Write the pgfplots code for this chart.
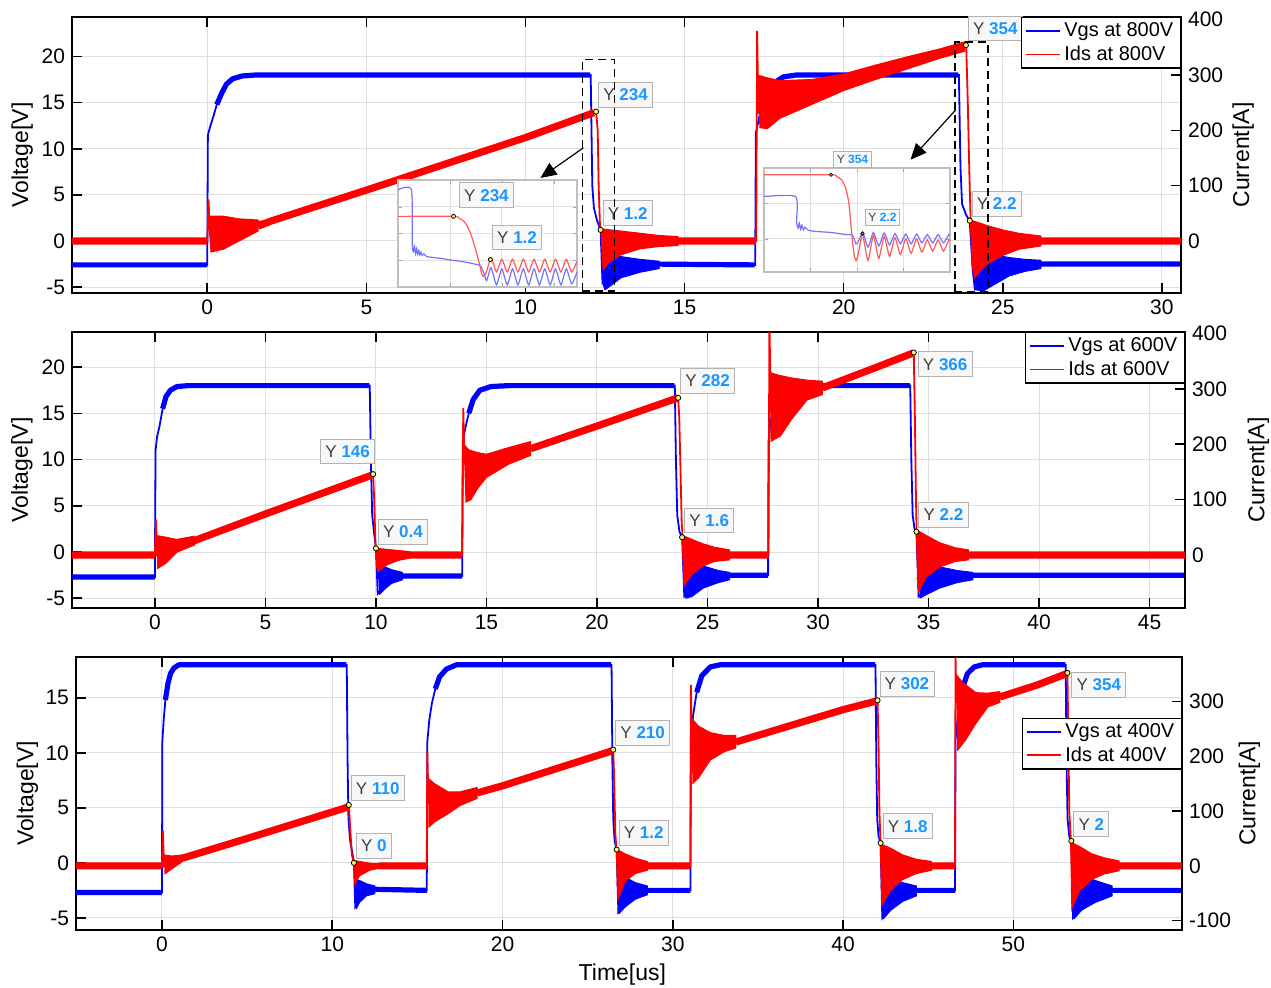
\documentclass[border=0pt]{standalone}
\usepackage{fontspec}
\setmainfont{Liberation Sans}
\usepackage{pgfplots}
\pgfplotsset{compat=1.18}
\usetikzlibrary{arrows.meta}
\definecolor{tipblue}{RGB}{25,150,255}
\newcommand{\tv}[1]{Y \textcolor{tipblue}{\bfseries #1}}
\pgfplotsset{
  base/.style={scale only axis, anchor=south west, clip mode=individual,
    axis line style={line width=0.8pt}, tick style={line width=0.8pt, black}, major tick length=5pt, tick align=inside,
    tick label style={font=\fontsize{10.5}{12}\selectfont},
    /pgf/number format/assume math mode=true,
    label style={font=\fontsize{11.5}{13}\selectfont}},
  leftax/.style={base, ytick pos=left, grid=major, major grid style={black!13, line width=0.5pt}},
  rightax/.style={base, axis x line=none, axis y line*=right, ytick pos=right,
    legend image code/.code={\draw[##1, line width=0.8pt] (0pt,0pt) -- (17pt,0pt);},
    legend style={draw=black, line width=0.7pt, fill=white, font=\fontsize{10}{11}\selectfont,
      inner xsep=1.5pt, inner ysep=0.5pt, row sep=-1pt, cells={anchor=west}}},
  vthin/.style={blue, line width=0.9pt, forget plot},
  vband/.style={blue, line width=2.6pt, line join=round, unbounded coords=jump, forget plot},
  venv/.style={draw=blue, fill=blue, line width=0.5pt, forget plot},
  ithin/.style={red, line width=0.9pt, forget plot},
  iband/.style={red, line width=3.6pt, line join=round, unbounded coords=jump, forget plot},
  ienv/.style={draw=red, fill=red, line width=0.5pt, forget plot},
  dots/.style={only marks, mark=*, mark size=1.3pt, mark options={draw=black, fill=yellow!60!white, line width=0.4pt}, forget plot},
  inset/.style={scale only axis, anchor=south west, clip mode=individual, xmin=0, xmax=100, ymin=0, ymax=100,
    axis background/.style={fill=white}, axis line style={black!25, line width=0.6pt},
    grid=major, major grid style={black!12, line width=0.4pt}, xticklabels={}, yticklabels={},
    tick style={black!35}, major tick length=2pt},
}
\tikzset{
  tip/.style={draw=black!30, fill=black!3, inner xsep=2.4pt, inner ysep=3.2pt,
    font=\fontsize{8.5}{9}\selectfont, text=black!75, anchor=south west, xshift=1pt, yshift=2pt},
  tipse/.style={tip, anchor=south east, xshift=0pt, yshift=3pt},
  tipnw/.style={tip, anchor=north west, xshift=1pt, yshift=-1.5pt},
  boxd/.style={black, line width=0.9pt, dash pattern=on 4pt off 2.5pt},
}
\begin{document}
\begin{tikzpicture}
\useasboundingbox (0,0) rectangle (635.5pt,493.5pt);
% ================= PANEL 1 (800V) =================
\begin{axis}[leftax, at={(36pt,347pt)}, width=554.5pt, height=138pt,
  xmin=-4.25, xmax=30.6, ymin=-5.65, ymax=24.3, xtick={0,5,...,30}, ytick={-5,0,...,20},
  ylabel={Voltage[V]}, ylabel style={at={(axis description cs:-0.045,0.5)}, anchor=center}]
\addplot[vthin] coordinates {(-4.25,-2.6) (0,-2.6) (0.02,11.5) (0.1,12.5) (0.2,13.6) (0.3,14.8) (0.45,16) (0.6,17) (0.8,17.6) (1.1,17.9) (1.5,18) (12.05,18) (12.1,6) (12.15,3.6) (12.25,2.2) (12.36,1.2) (12.42,-4.5) (12.6,-3.5) (13,-3) (14,-2.6) (17.22,-2.6) (17.24,11.7) (17.35,13.5) (17.5,15.5) (17.65,16.5) (17.8,17.1) (18.1,17.8) (18.5,18) (23.62,18) (23.67,8) (23.72,4) (23.85,2.8) (23.96,2.2) (24.05,-3) (24.12,-5.2) (24.5,-4) (25,-3.2) (26,-2.6) (30.6,-2.5)};
\addplot[vband] coordinates {(-4.25,-2.6) (0,-2.6) (0,nan) (0.3,14.8) (0.45,16) (0.6,17) (0.8,17.6) (1.1,17.9) (1.5,18) (12.03,18) (0,nan) (13.6,-2.5) (17.2,-2.6) (0,nan) (17.5,15.5) (17.65,16.5) (17.8,17.1) (18.1,17.8) (18.5,18) (23.6,18) (0,nan) (25.8,-2.5) (30.6,-2.5)};
\addplot[venv] coordinates {(12.42,-1.8) (12.6,-1.4) (13,-1.7) (13.6,-2.0) (14.2,-2.2) (14.2,-3.0) (13.6,-3.4) (13,-4.0) (12.7,-4.8) (12.5,-5.3) (12.42,-4.5)};
\addplot[venv] coordinates {(24.08,-2) (24.3,-1.5) (24.7,-1.5) (25.2,-1.8) (25.7,-2.0) (26.2,-2.1) (26.2,-3.0) (25.7,-3.3) (25.2,-3.8) (24.7,-4.8) (24.4,-5.4) (24.12,-5.3)};
\end{axis}
\begin{axis}[rightax, at={(36pt,347pt)}, width=554.5pt, height=138pt,
  xmin=-4.25, xmax=30.6, ymin=-94, ymax=405, ytick={0,100,...,400},
  ylabel={Current[A]}, ylabel style={at={(axis description cs:1.056,0.5)}, anchor=center},
  legend style={at={(1,1)}, anchor=north east}]
\addlegendimage{blue}\addlegendentry{Vgs at 800V}
\addlegendimage{red}\addlegendentry{Ids at 800V}
\addplot[ithin] coordinates {(-4.25,0) (0,0) (0.04,75) (0.08,20) (0.12,-15) (0.2,30) (0.3,-10) (0.4,35) (0.55,-5) (0.7,35) (0.9,5) (1.1,35) (1.3,15) (1.5,35) (2,36) (5,92) (10,187) (12.15,232) (12.22,234) (12.27,200) (12.3,100) (12.34,30) (12.38,20) (12.45,-50) (12.6,10) (13,-5) (14,0) (17.25,0) (17.28,380) (17.32,230) (17.36,290) (17.42,210) (17.5,280) (17.6,215) (17.7,270) (17.85,230) (18,255) (20,287) (22,322) (23.8,352) (23.85,354) (23.9,250) (23.95,120) (23.99,36) (24.05,-40) (24.2,20) (24.5,-10) (25,0) (26,0) (30.6,0)};
\addplot[iband] coordinates {(-4.25,0) (0,0) (0,nan) (1.6,27) (2,36) (5,92) (10,187) (12.15,232) (0,nan) (14.6,0) (17.25,0) (0,nan) (26,0) (30.6,0)};
\addplot[ienv] coordinates {(0.08,45) (0.5,45) (1,40) (1.6,38) (1.6,18) (1,0) (0.5,-15) (0.1,-20)};
\addplot[ienv] coordinates {(12.38,22) (13,18) (13.6,14) (14.2,10) (14.8,8) (14.8,-8) (14.2,-10) (13.6,-14) (13,-25) (12.6,-40) (12.45,-52) (12.4,-20)};
\addplot[ienv] coordinates {(17.3,300) (17.6,295) (18,290) (19,292) (20,302) (21,318) (22,333) (23,347) (23.8,360) (23.8,343) (23,330) (22,311) (21,292) (20,272) (19,247) (18,222) (17.6,203) (17.35,205)};
\addplot[ienv] coordinates {(23.99,38) (24.5,28) (25,20) (25.5,14) (26.2,9) (26.2,-9) (25.5,-15) (25,-26) (24.5,-42) (24.12,-66) (24.02,-40)};
\addplot[dots] coordinates {(12.22,234) (12.36,20.1) (23.84,354) (23.96,36.8)};
\node[tip] at (axis cs:12.22,234) {\tv{234}};
\node[tip] at (axis cs:12.36,20.1) {\tv{1.2}};
\node[tip] at (axis cs:23.84,354) {\tv{354}};
\node[tip] at (axis cs:23.96,36.8) {\tv{2.2}};
\draw[boxd] (axis cs:11.79,-90.6) rectangle (axis cs:12.8,328);
\draw[boxd] (axis cs:23.49,-92) rectangle (axis cs:24.53,360);
\draw[-{Triangle[length=8pt,width=7pt]}, line width=0.6pt] (axis cs:11.82,168.5) -- (axis cs:10.47,114);
\draw[-{Triangle[length=8pt,width=7pt]}, line width=0.6pt] (axis cs:23.52,237) -- (axis cs:22.1,147);
\end{axis}
% inset 1
\begin{axis}[inset, at={(199pt,350pt)}, width=89.5pt, height=53.5pt, xtick={0,29,58,87}, ytick={0,25,50,75}]
\addplot[blue!55, line width=0.6pt, smooth, tension=0.35] coordinates {(0,91) (7.5,91) (8,39) (8.6,33) (9.2,38) (9.8,31) (10.4,36) (11,30.5) (11.6,34) (12.2,30) (12.8,32.5) (13.5,29.5) (14.5,31) (16,28.5) (20,27.5) (25,26.5) (30,25) (35,24) (40,22.5) (44,21) (46,20) (48,13) (49.5,6) (52,18) (55,2) (58,17) (61,2) (64,17) (67,2) (70,17) (73,2) (76,17) (79,2) (82,17) (85,2) (88,17) (91,2) (94,17) (97,3) (100,14)};
\addplot[red!65, line width=0.6pt, smooth, tension=0.35] coordinates {(0,66) (31,66) (34,64.5) (37,61) (39,56) (41,48) (43,37) (45,25) (46.5,14) (47.5,10) (49,12) (52,27) (55,14) (58,26) (61,14) (64,26) (67,14) (70,26) (73,14) (76,26) (79,14) (82,26) (85,14) (88,26) (91,14) (94,26) (97,14) (100,24)};
\addplot[dots, mark size=1pt] coordinates {(31,66) (51.6,25.6)};
\node[tip, anchor=center, xshift=0pt, yshift=0pt] at (axis cs:48.3,82) {\tv{234}};
\node[tip, anchor=center, xshift=0pt, yshift=0pt] at (axis cs:65.4,42.5) {\tv{1.2}};
\end{axis}
% inset 2
\begin{axis}[inset, at={(382pt,357.5pt)}, width=93pt, height=52pt, xtick={0,25,50,75}, ytick={0,32,66}]
\addplot[blue!55, line width=0.6pt, smooth, tension=0.35] coordinates {(0,72.6) (17,72.6) (17.5,48) (18.3,42) (19,47) (19.7,41) (20.4,45) (21.2,40.5) (22,43) (24,40) (28,39) (32,38.5) (36,38) (40,37) (44,36) (47.5,35.5) (49.5,27) (51,30) (53,38.7) (55.9,24) (58.8,38) (61.7,25) (64.6,37.5) (67.5,26) (70.4,37) (73.3,27) (76.2,36.5) (79.1,27) (82,36.5) (84.9,28) (87.8,36) (90.7,28) (93.6,36) (96.5,28) (99.4,36) (100,35)};
\addplot[red!65, line width=0.6pt, smooth, tension=0.35] coordinates {(0,93.5) (36,93.5) (39,92) (42,88) (44,80) (45.5,68) (46.5,50) (47.5,30) (48.5,16) (49.5,11) (50.5,16) (52,30) (53,37) (55.9,11) (58.8,35) (61.7,13) (64.6,34) (67.5,15) (70.4,33) (73.3,17) (76.2,32) (79.1,18) (82,32) (84.9,19) (87.8,31) (90.7,20) (93.6,31) (96.5,20) (99.4,31) (100,30)};
\addplot[dots, mark size=0.8pt] coordinates {(36,93.5) (53,37)};
\node[tip, anchor=center, xshift=0pt, yshift=0pt, font=\fontsize{6}{7}\selectfont, inner ysep=2pt, inner xsep=1.5pt] at (axis cs:46.5,104.5) {\tv{354}};
\node[tip, anchor=center, xshift=0pt, yshift=0pt, font=\fontsize{6}{7}\selectfont, inner ysep=2pt, inner xsep=1.5pt] at (axis cs:62.6,48.5) {\tv{2.2}};
\end{axis}
% ================= PANEL 2 (600V) =================
\begin{axis}[leftax, at={(36pt,189.5pt)}, width=556.5pt, height=138pt,
  xmin=-3.75, xmax=46.6, ymin=-6.05, ymax=23.8, xtick={0,5,...,45}, ytick={-5,0,...,20},
  ylabel={Voltage[V]}, ylabel style={at={(axis description cs:-0.045,0.5)}, anchor=center}]
\addplot[vthin] coordinates {(-3.75,-2.7) (0,-2.7) (0.03,11) (0.1,12.5) (0.2,13.5) (0.35,15.5) (0.5,16.8) (0.7,17.5) (1.0,17.9) (1.5,18) (9.72,18) (9.77,10) (9.83,4) (9.92,2) (10.0,0.4) (10.08,-4.5) (10.5,-3.2) (11.2,-2.6) (13.9,-2.6) (13.93,12) (14.05,13.5) (14.2,15) (14.4,16.5) (14.7,17.5) (15.2,17.9) (16,18) (23.52,18) (23.57,10) (23.63,4) (23.73,2.2) (23.85,1.6) (23.95,-4.8) (24.5,-3.8) (25.5,-2.8) (26,-2.5) (27.74,-2.5) (27.76,12) (27.85,14) (28,16) (28.2,17.3) (28.5,17.8) (29,18) (34.17,18) (34.22,10) (34.28,4) (34.36,2.6) (34.45,2.2) (34.55,-4.8) (35,-4) (36,-2.8) (37,-2.5) (46.6,-2.5)};
\addplot[vband] coordinates {(-3.75,-2.7) (0,-2.7) (0,nan) (0.35,15.5) (0.5,16.8) (0.7,17.5) (1.0,17.9) (1.5,18) (9.7,18) (0,nan) (11.1,-2.6) (13.9,-2.6) (0,nan) (14.2,15) (14.4,16.5) (14.7,17.5) (15.2,17.9) (16,18) (23.5,18) (0,nan) (25.9,-2.5) (27.74,-2.5) (0,nan) (28,16) (28.2,17.3) (28.5,17.8) (29,18) (34.15,18) (0,nan) (36.9,-2.5) (46.6,-2.5)};
\addplot[venv] coordinates {(10.08,-2) (10.3,-1.5) (10.7,-1.9) (11.2,-2.2) (11.2,-3.0) (10.7,-3.4) (10.4,-4) (10.15,-4.6)};
\addplot[venv] coordinates {(23.95,-2) (24.2,-1.3) (24.8,-1.5) (25.5,-2.0) (26,-2.2) (26,-3.0) (25.5,-3.3) (24.8,-3.9) (24.3,-4.8) (24.0,-5.0)};
\addplot[venv] coordinates {(34.55,-2) (34.9,-1.3) (35.5,-1.6) (36.3,-2.0) (37,-2.2) (37,-3.0) (36.3,-3.3) (35.5,-3.9) (34.9,-4.6) (34.6,-5.0)};
\end{axis}
\begin{axis}[rightax, at={(36pt,189.5pt)}, width=556.5pt, height=138pt,
  xmin=-3.75, xmax=46.6, ymin=-96, ymax=403, ytick={-100,0,...,400},
  ylabel={Current[A]}, ylabel style={at={(axis description cs:1.066,0.5)}, anchor=center},
  legend style={at={(1,1)}, anchor=north east}]
\addlegendimage{blue}\addlegendentry{Vgs at 600V}
\addlegendimage{red}\addlegendentry{Ids at 600V}
\addplot[ithin] coordinates {(-3.75,0) (0,0) (0.05,64) (0.1,0) (0.3,3) (2,29) (5,74) (9.8,144) (9.87,146) (9.92,100) (9.97,30) (10.0,8) (10.08,-25) (10.5,5) (11.5,0) (13.9,0) (13.95,266) (14.0,170) (14.2,140) (15,161) (17,192) (20,233) (23.67,284) (23.72,250) (23.78,150) (23.83,60) (23.87,33) (23.95,-50) (24.5,10) (25.8,0) (27.76,0) (27.8,420) (27.85,300) (28,265) (29,290) (30.2,302) (32.5,337) (34.33,366) (34.38,250) (34.43,100) (34.46,43) (34.55,-60) (35,10) (37,0) (46.6,0)};
\addplot[iband] coordinates {(-3.75,0) (0,0) (0,nan) (1.7,24) (2,29) (5,74) (9.8,144) (0,nan) (11.4,0) (13.9,0) (0,nan) (17,192) (20,233) (23.67,284) (0,nan) (25.9,0) (27.76,0) (0,nan) (30.2,302) (32.5,337) (34.3,365) (0,nan) (36.8,0) (46.6,0)};
\addplot[ienv] coordinates {(0.08,35) (0.5,32) (1,28) (1.8,34) (1.8,18) (1,5) (0.5,-15) (0.1,-25)};
\addplot[ienv] coordinates {(10.0,12) (10.5,10) (11,8) (11.5,6) (11.5,-6) (11,-10) (10.5,-18) (10.1,-30) (10.02,-20)};
\addplot[ienv] coordinates {(13.97,200) (14.2,190) (14.6,185) (15,182) (16,194) (17,205) (17,180) (16,164) (15,140) (14.6,120) (14.3,100) (14.05,95)};
\addplot[ienv] coordinates {(23.87,35) (24.3,28) (24.8,20) (25.3,14) (26,9) (26,-9) (25.3,-12) (24.8,-20) (24.3,-35) (23.95,-55) (23.9,-30)};
\addplot[ienv] coordinates {(27.82,330) (28.2,325) (28.8,320) (29.5,316) (30.2,314) (30.2,290) (29.5,280) (28.8,245) (28.3,215) (27.85,205)};
\addplot[ienv] coordinates {(34.46,45) (34.9,35) (35.5,22) (36.2,13) (36.8,9) (36.8,-9) (36.2,-12) (35.5,-22) (34.9,-40) (34.55,-66) (34.48,-40)};
\addplot[dots] coordinates {(9.87,146) (10.0,11.8) (23.67,284) (23.85,31.9) (34.33,366) (34.45,41.9)};
\node[tipse] at (axis cs:9.87,146) {\tv{146}};
\node[tip] at (axis cs:10.0,11.8) {\tv{0.4}};
\node[tip] at (axis cs:23.67,284) {\tv{282}};
\node[tip] at (axis cs:23.85,31.9) {\tv{1.6}};
\node[tipnw] at (axis cs:34.33,366) {\tv{366}};
\node[tip] at (axis cs:34.45,41.9) {\tv{2.2}};
\end{axis}
% ================= PANEL 3 (400V) =================
\begin{axis}[leftax, at={(38pt,28.5pt)}, width=553pt, height=136.5pt,
  xmin=-5.05, xmax=59.9, ymin=-6.1, ymax=18.7, xtick={0,10,...,50}, ytick={-5,0,...,15},
  ylabel={Voltage[V]}, ylabel style={at={(axis description cs:-0.044,0.5)}, anchor=center},
  xlabel={Time[us]}, xlabel style={at={(axis description cs:0.494,-0.165)}, anchor=center}]
\addplot[vthin] coordinates {(-5.05,-2.7) (0,-2.7) (0.02,11) (0.1,13) (0.2,14.8) (0.35,16.3) (0.5,17.2) (0.7,17.7) (1.0,18) (10.85,18) (10.9,9) (10.95,4) (11.05,2) (11.27,0.1) (11.35,-4) (11.8,-3) (12.5,-2.4) (15.55,-2.5) (15.58,11) (15.7,13) (15.85,14.5) (16.05,15.8) (16.3,16.9) (16.7,17.6) (17.3,18) (26.4,18) (26.45,9) (26.5,4) (26.58,2) (26.7,1.2) (26.8,-4.5) (27.5,-3) (28.5,-2.5) (31.03,-2.5) (31.06,11.5) (31.2,13.5) (31.4,15.5) (31.7,17) (32.2,17.8) (32.8,18) (41.9,18) (41.95,9) (42.0,4) (42.08,2.4) (42.2,1.8) (42.3,-5) (43,-3.5) (44.3,-2.5) (46.57,-2.5) (46.6,11.2) (46.75,13.5) (47,15.8) (47.3,17.2) (47.7,17.8) (48.2,18) (53.07,18) (53.12,9) (53.18,4) (53.28,2.4) (53.4,2.0) (53.5,-5) (54.5,-3.5) (55.8,-2.5) (59.9,-2.5)};
\addplot[vband] coordinates {(-5.05,-2.7) (0,-2.7) (0,nan) (0.2,14.8) (0.35,16.3) (0.5,17.2) (0.7,17.7) (1.0,18) (10.83,18) (0,nan) (12.4,-2.4) (15.55,-2.5) (0,nan) (16.05,15.8) (16.3,16.9) (16.7,17.6) (17.3,18) (26.38,18) (0,nan) (28.4,-2.5) (31.03,-2.5) (0,nan) (31.4,15.5) (31.7,17) (32.2,17.8) (32.8,18) (41.88,18) (0,nan) (44.2,-2.5) (46.57,-2.5) (0,nan) (47,15.8) (47.3,17.2) (47.7,17.8) (48.2,18) (53.05,18) (0,nan) (55.7,-2.5) (59.9,-2.5)};
\addplot[venv] coordinates {(11.3,-1.5) (11.6,-1.6) (12,-1.9) (12.5,-2.1) (12.5,-2.8) (12,-3.0) (11.6,-3.6) (11.4,-4.2)};
\addplot[venv] coordinates {(26.75,-1.5) (27.2,-1.3) (27.8,-1.8) (28.5,-2.1) (28.5,-2.9) (27.8,-3.3) (27.2,-4.0) (26.85,-4.6)};
\addplot[venv] coordinates {(42.3,-2) (42.8,-1.5) (43.5,-1.8) (44.3,-2.1) (44.3,-3.0) (43.5,-3.5) (42.8,-4.3) (42.35,-5.1)};
\addplot[venv] coordinates {(53.45,-2) (54,-1.2) (54.8,-1.6) (55.8,-2.1) (55.8,-3.0) (54.8,-3.6) (54,-4.3) (53.55,-5.1)};
\end{axis}
\begin{axis}[rightax, at={(38pt,28.5pt)}, width=553pt, height=136.5pt,
  xmin=-5.05, xmax=59.9, ymin=-117, ymax=381, ytick={-100,0,...,300},
  ylabel={Current[A]}, ylabel style={at={(axis description cs:1.061,0.5)}, anchor=center},
  legend style={at={(1,0.777)}, anchor=north east}]
\addlegendimage{blue}\addlegendentry{Vgs at 400V}
\addlegendimage{red}\addlegendentry{Ids at 400V}
\addplot[ithin] coordinates {(-5.05,0) (0,0) (0.05,64) (0.12,0) (0.3,5) (5,50) (10.9,107) (10.97,111) (11.05,70) (11.15,20) (11.27,5) (11.35,-30) (11.8,5) (12.8,0) (15.55,0) (15.58,210) (15.65,120) (15.8,103) (17,118) (20,146) (26.5,212) (26.56,150) (26.62,60) (26.7,25) (26.8,-55) (27.3,5) (28.5,0) (31.03,0) (31.06,330) (31.12,220) (31.3,223) (33.7,226) (35,238) (40,285) (42.02,302) (42.08,220) (42.13,100) (42.2,38) (42.3,-65) (43,10) (44.5,0) (46.57,0) (46.6,381) (46.65,300) (47.0,290) (47.3,285) (49,309) (51.4,330) (53.17,352) (53.22,250) (53.28,100) (53.38,43) (53.45,-70) (54,10) (56,0) (59.9,0)};
\addplot[iband] coordinates {(-5.05,0) (0,0) (0,nan) (1.2,14) (5,50) (10.9,107) (0,nan) (12.7,0) (15.55,0) (0,nan) (18.5,133) (20,146) (26.45,210) (0,nan) (28.5,0) (31.03,0) (0,nan) (33.7,226) (35,238) (40,285) (42.0,301) (0,nan) (45.2,0) (46.57,0) (0,nan) (49.2,308) (51.4,330) (53.15,351) (0,nan) (56.2,0) (59.9,0)};
\addplot[ienv] coordinates {(0.1,20) (0.6,18) (1.2,20) (1.2,8) (0.6,-5) (0.15,-15)};
\addplot[ienv] coordinates {(11.27,10) (11.6,8) (12.2,5) (12.8,4) (12.8,-4) (12.2,-8) (11.6,-18) (11.32,-33) (11.28,-15)};
\addplot[ienv] coordinates {(15.62,160) (16,150) (16.8,135) (17.5,135) (18.5,143) (18.5,123) (17.5,110) (16.8,95) (16,80) (15.65,70)};
\addplot[ienv] coordinates {(26.7,30) (27.2,22) (27.8,14) (28.5,8) (28.5,-8) (27.8,-14) (27.2,-28) (26.8,-60) (26.72,-30)};
\addplot[ienv] coordinates {(31.08,270) (31.5,255) (32.2,243) (33,238) (33.7,238) (33.7,215) (33,208) (32.2,193) (31.5,160) (31.15,150)};
\addplot[ienv] coordinates {(42.2,40) (42.8,32) (43.5,20) (44.3,12) (45.2,8) (45.2,-8) (44.3,-14) (43.5,-25) (42.8,-45) (42.3,-70) (42.23,-35)};
\addplot[ienv] coordinates {(46.62,350) (47,335) (47.8,316) (48.5,315) (49.2,318) (49.2,298) (48.5,290) (47.8,260) (47.2,230) (46.7,210)};
\addplot[ienv] coordinates {(53.38,43) (53.9,35) (54.6,22) (55.3,15) (56.2,9) (56.2,-9) (55.3,-15) (54.6,-25) (53.9,-45) (53.45,-76) (53.4,-40)};
\addplot[dots] coordinates {(10.97,111) (11.27,5.5) (26.5,212) (26.7,29.6) (42.02,302) (42.2,41.6) (53.17,352) (53.4,45.6)};
\node[tip] at (axis cs:10.97,111) {\tv{110}};
\node[tip] at (axis cs:11.27,5.5) {\tv{0}};
\node[tip] at (axis cs:26.5,212) {\tv{210}};
\node[tip] at (axis cs:26.7,29.6) {\tv{1.2}};
\node[tip] at (axis cs:42.02,302) {\tv{302}};
\node[tip] at (axis cs:42.2,41.6) {\tv{1.8}};
\node[tipnw] at (axis cs:53.17,352) {\tv{354}};
\node[tip] at (axis cs:53.4,45.6) {\tv{2}};
\end{axis}
\end{tikzpicture}
\end{document}
